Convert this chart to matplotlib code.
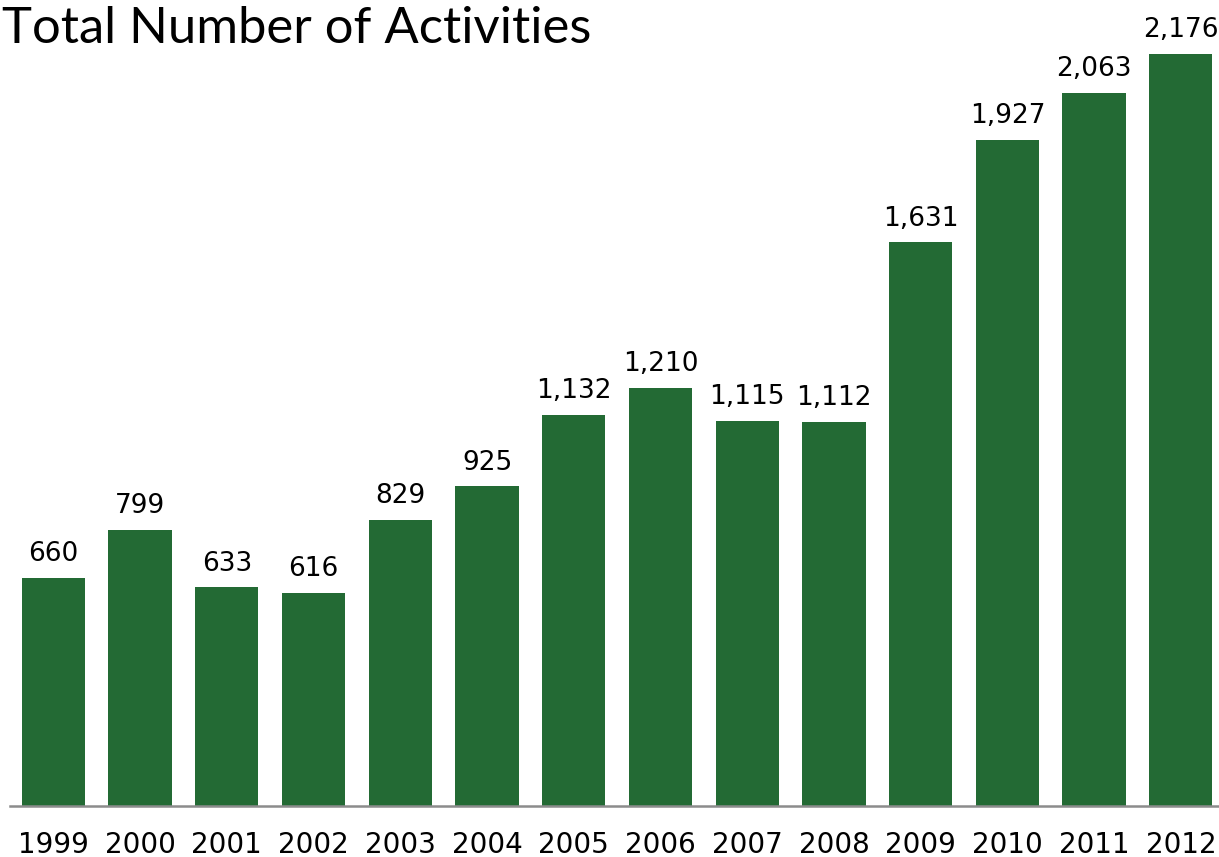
import matplotlib.pyplot as plt

years = ['1999', '2000', '2001', '2002', '2003', '2004', '2005',
         '2006', '2007', '2008', '2009', '2010', '2011', '2012']
activities = [660, 799, 633, 616, 829, 925, 1132,
              1210, 1115, 1112, 1631, 1927, 2063, 2176]

BAR_COLOR = '#236a34'


def main():
    fig = plt.figure(figsize=(12.19, 8.57), dpi=100)
    ax = fig.add_axes([10 / 1219, 1 - 806 / 857, 1 - 10 / 1219, (806 - 54) / 857])

    x = range(len(years))
    ax.bar(x, activities, width=0.73, color=BAR_COLOR)
    for xi, v in zip(x, activities):
        ax.annotate(f'{v:,}', (xi, v), xytext=(0, 12), textcoords='offset points',
                    ha='center', va='baseline', fontsize=19,
                    family='DejaVu Sans', annotation_clip=False)

    ax.set_xlim(-0.5, 13.44)
    ax.set_ylim(0, 2176)
    ax.set_xticks(list(x))
    ax.set_xticklabels(years, fontsize=20, family='DejaVu Sans')
    ax.tick_params(axis='x', length=0, pad=18)
    ax.set_yticks([])
    for side in ('top', 'right', 'left'):
        ax.spines[side].set_visible(False)
    ax.spines['bottom'].set_color('#8c8c8c')
    ax.spines['bottom'].set_linewidth(1.8)

    fig.text(2 / 1219, 1 - 6 / 857, 'Total Number of Activities', fontsize=36.5,
             family='Lato', ha='left', va='top')

    fig.savefig('out.png', dpi=100)


if __name__ == '__main__':
    main()
